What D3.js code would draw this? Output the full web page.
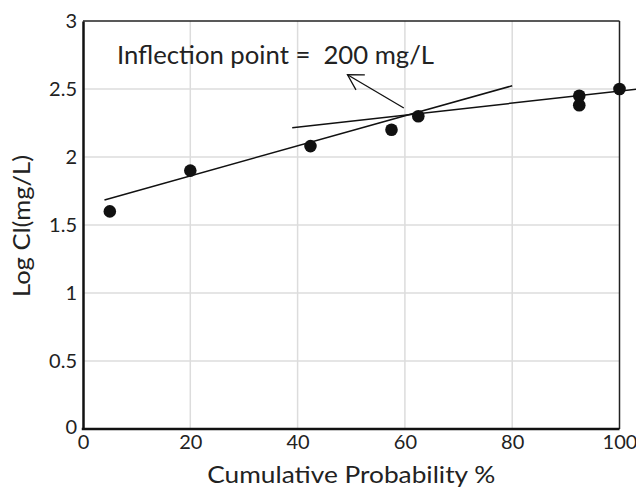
<!DOCTYPE html>
<html>
<head>
<meta charset="utf-8">
<script src="https://cdn.jsdelivr.net/npm/d3@7"></script>
<style>
html,body{margin:0;padding:0;background:#fff;}
svg text{font-family:Lato,"Open Sans",sans-serif;fill:#222;}
</style>
</head>
<body>
<svg id="chart" width="636" height="488"></svg>
<script>
// Data
const probability = [5, 20, 42.4, 57.5, 62.5, 92.5, 92.5, 100];
const logCl = [1.60, 1.90, 2.08, 2.20, 2.30, 2.45, 2.38, 2.50];
const lineLowerX = [4, 80];
const lineLowerY = [1.684, 2.524];
const lineUpperX = [39, 103.1];
const lineUpperY = [2.215, 2.498];
const arrowX = [59.8, 49.3];
const arrowY = [2.36, 2.605];
const xTicks = [0, 20, 40, 60, 80, 100];
const yTicks = [0, 0.5, 1, 1.5, 2, 2.5, 3];
const annotation = "Inflection point =  200 mg/L";

const svg = d3.select("#chart");
const m = {left: 83, top: 21, right: 619.5, bottom: 429};
const x = d3.scaleLinear().domain([0, 100]).range([m.left, m.right]);
const y = d3.scaleLinear().domain([0, 3]).range([m.bottom, m.top]);

// gridlines
svg.append("g").selectAll("line").data(xTicks.slice(1, -1)).join("line")
  .attr("x1", d => x(d)).attr("x2", d => x(d))
  .attr("y1", y(0)).attr("y2", y(3))
  .attr("stroke", "#dcdcdc").attr("stroke-width", 1.5);
svg.append("g").selectAll("line").data(yTicks.slice(1, -1)).join("line")
  .attr("x1", x(0)).attr("x2", x(100))
  .attr("y1", d => y(d)).attr("y2", d => y(d))
  .attr("stroke", "#dcdcdc").attr("stroke-width", 1.5);

// frame
svg.append("line").attr("x1", x(0)).attr("x2", x(100)).attr("y1", y(3)).attr("y2", y(3))
  .attr("stroke", "#222").attr("stroke-width", 1.5);
svg.append("line").attr("x1", x(100)).attr("x2", x(100)).attr("y1", y(3)).attr("y2", y(0))
  .attr("stroke", "#222").attr("stroke-width", 1.5);

// axes
const xAxis = svg.append("g").attr("transform", `translate(0,${m.bottom})`)
  .call(d3.axisBottom(x).tickValues(xTicks).tickSize(0).tickPadding(6).tickFormat(d3.format("d")));
const yAxis = svg.append("g").attr("transform", `translate(${m.left},0)`)
  .call(d3.axisLeft(y).tickValues(yTicks).tickSize(0).tickPadding(6).tickFormat(d => String(d)));
[xAxis, yAxis].forEach(a => {
  a.select(".domain").attr("stroke", "#111").attr("stroke-width", 2.5);
  a.selectAll("text").attr("font-size", 20).attr("fill", "#222")
    .style("font-family", "Lato, 'Open Sans', sans-serif");
});
xAxis.selectAll("text").attr("dy", "0.71em");
yAxis.selectAll("text").attr("dy", "0.32em");
yAxis.selectAll(".tick").filter(d => d === 0).select("text").attr("dy", "0.2em");
xAxis.select(".domain").attr("d", `M${m.left - 1.25},0H${m.right}`);

// axis titles
svg.append("text").attr("x", (m.left + m.right) / 2).attr("y", 483)
  .attr("text-anchor", "middle").attr("font-size", 24)
  .attr("textLength", 288).attr("lengthAdjust", "spacingAndGlyphs")
  .text("Cumulative Probability %");
svg.append("text").attr("transform", `translate(30,${(m.top + m.bottom) / 2 + 1}) rotate(-90)`)
  .attr("text-anchor", "middle").attr("font-size", 24)
  .attr("textLength", 142).attr("lengthAdjust", "spacingAndGlyphs")
  .text("Log Cl(mg/L)");

// fit lines
const seg = (xs, ys) => svg.append("line")
  .attr("x1", x(xs[0])).attr("y1", y(ys[0])).attr("x2", x(xs[1])).attr("y2", y(ys[1]))
  .attr("stroke", "#111").attr("stroke-width", 1.5);
seg(lineLowerX, lineLowerY);
seg(lineUpperX, lineUpperY);

// arrow
svg.append("defs").append("marker").attr("id", "arr")
  .attr("viewBox", "-20 -12 22 24").attr("refX", 0).attr("refY", 0)
  .attr("markerWidth", 22).attr("markerHeight", 24).attr("markerUnits", "userSpaceOnUse")
  .attr("orient", "auto")
  .append("path").attr("d", "M-15,-8.7L0,0L-15,8.7").attr("fill", "none")
  .attr("stroke", "#111").attr("stroke-width", 1.3);
svg.append("line")
  .attr("x1", x(arrowX[0])).attr("y1", y(arrowY[0])).attr("x2", x(arrowX[1])).attr("y2", y(arrowY[1]))
  .attr("stroke", "#111").attr("stroke-width", 1.3).attr("marker-end", "url(#arr)");

// points
svg.append("g").selectAll("circle").data(probability).join("circle")
  .attr("cx", d => x(d)).attr("cy", (d, i) => y(logCl[i])).attr("r", 6.3)
  .attr("fill", "#111");

// annotation
svg.append("text").attr("x", 117).attr("y", 64).attr("font-size", 25)
  .attr("textLength", 317).attr("lengthAdjust", "spacingAndGlyphs")
  .style("white-space", "pre").attr("xml:space", "preserve").text(annotation);
</script>
</body>
</html>
